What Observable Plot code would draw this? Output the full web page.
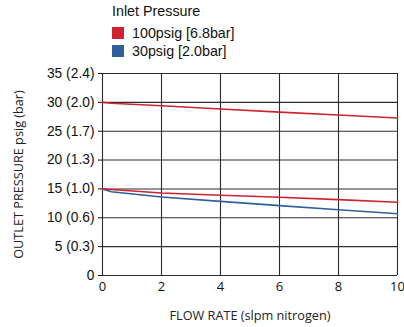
<!DOCTYPE html>
<html>
<head>
<meta charset="utf-8">
<script src="https://cdn.jsdelivr.net/npm/d3@7"></script>
<script src="https://cdn.jsdelivr.net/npm/@observablehq/plot@0.6"></script>
<style>
  html, body { margin: 0; padding: 0; background: #fff; }
  #wrap { width: 404px; height: 327px; position: relative; overflow: hidden; }
  #legend { position: absolute; left: 0; top: 0; width: 404px; height: 60px; font-family: "Liberation Sans", Arial, sans-serif; font-size: 14.3px; color: #111; }
  #legend .title { position: absolute; left: 112px; top: 3px; }
  #legend .row { position: absolute; left: 112px; height: 12px; display: flex; align-items: center; }
  #legend .sw { width: 12px; height: 12px; margin-right: 8px; }
  #chart { position: absolute; left: 0; top: 60px; }
  #chart svg { overflow: visible; }
</style>
</head>
<body>
<div id="wrap">
  <div id="legend"></div>
  <div id="chart"></div>
</div>
<script>
const legendTitle = "Inlet Pressure";
const seriesNames = ["100psig [6.8bar]", "30psig [2.0bar]"];
const seriesColors = ["#cf2230", "#2f5f9e"];

const flow = [0, 0.3, 2, 4, 6, 8, 10];
const red100Upper = [30, 29.85, 29.4, 28.85, 28.3, 27.8, 27.3];
const red100Lower = [15, 14.9, 14.3, 13.9, 13.55, 13.15, 12.7];
const blue30 = [15, 14.5, 13.6, 12.85, 12.1, 11.4, 10.7];

const xTicks = [0, 2, 4, 6, 8, 10];
const yTicks = [0, 5, 10, 15, 20, 25, 30, 35];
const yTickLabels = ["0", "5 (0.3)", "10 (0.6)", "15 (1.0)", "20 (1.3)", "25 (1.7)", "30 (2.0)", "35 (2.4)"];
const xTitle = "FLOW RATE (slpm nitrogen)";
const yTitle = "OUTLET PRESSURE psig (bar)";

// legend
const leg = document.getElementById("legend");
const t = document.createElement("div");
t.className = "title"; t.textContent = legendTitle; leg.appendChild(t);
seriesNames.forEach((n, i) => {
  const r = document.createElement("div");
  r.className = "row"; r.style.top = (27 + i * 18) + "px";
  const s = document.createElement("div"); s.className = "sw"; s.style.background = seriesColors[i];
  const l = document.createElement("span"); l.textContent = n;
  r.appendChild(s); r.appendChild(l); leg.appendChild(r);
});

const rows = [];
flow.forEach((x, i) => {
  rows.push({x, y: red100Upper[i], s: "hi"});
  rows.push({x, y: red100Lower[i], s: "lo"});
  rows.push({x, y: blue30[i], s: "blue"});
});

const plot = Plot.plot({
  width: 404,
  height: 267,
  marginTop: 13,
  marginBottom: 52,
  marginLeft: 102,
  marginRight: 7,
  style: { fontFamily: "Liberation Sans, Arial, sans-serif", fontSize: "13px", color: "#111", background: "#fff", overflow: "visible" },
  x: { domain: [0, 10], label: null },
  y: { domain: [0, 35], label: null },
  marks: [
    Plot.gridX(xTicks, { stroke: "#222", strokeOpacity: 0.95, strokeWidth: 1.1 }),
    Plot.gridY(yTicks, { stroke: "#222", strokeOpacity: 0.95, strokeWidth: 1.1 }),
    Plot.axisX(xTicks, { tickSize: 0, tickPadding: 6, label: null, fontSize: 13, fontFamily: "Open Sans, sans-serif" }),
    Plot.axisY(yTicks, { tickSize: 4, tickPadding: 4, label: null, fontSize: 13.8,
      tickFormat: d => yTickLabels[yTicks.indexOf(d)] }),
    Plot.line(rows.filter(d => d.s === "blue"), { x: "x", y: "y", stroke: seriesColors[1], strokeWidth: 1.6 }),
    Plot.line(rows.filter(d => d.s === "lo"), { x: "x", y: "y", stroke: seriesColors[0], strokeWidth: 1.6 }),
    Plot.line(rows.filter(d => d.s === "hi"), { x: "x", y: "y", stroke: seriesColors[0], strokeWidth: 1.6 }),
    Plot.text([xTitle], { frameAnchor: "bottom", dy: 44, text: d => d, fontFamily: "Open Sans, sans-serif", fontSize: 12.7, fill: "#222" }),
    Plot.text([yTitle], { frameAnchor: "left", textAnchor: "middle", dx: -84, rotate: -90, text: d => d, fontFamily: "Open Sans, sans-serif", fontSize: 12.7, fill: "#222" })
  ]
});
document.getElementById("chart").appendChild(plot);
</script>
</body>
</html>
